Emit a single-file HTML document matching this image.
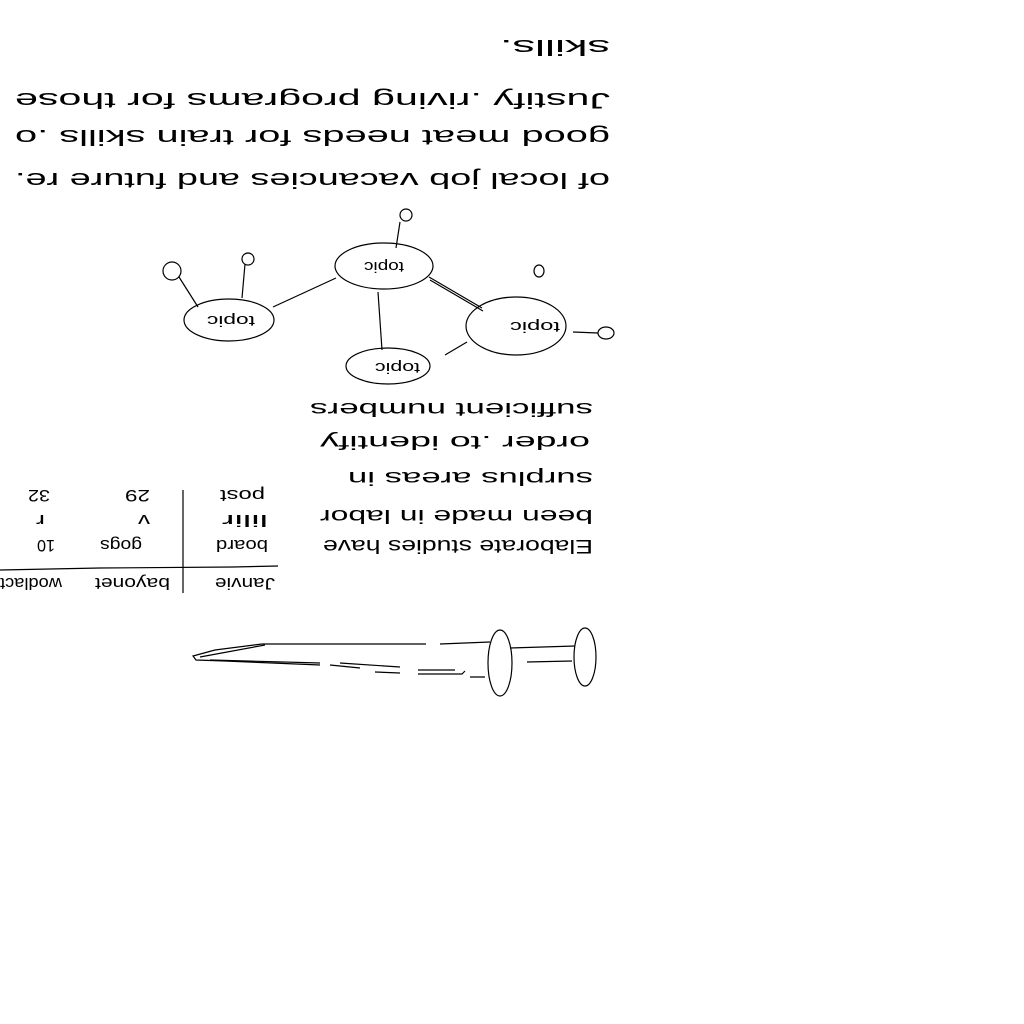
<!DOCTYPE html>
<html><head><meta charset="utf-8"><style>
html,body{margin:0;padding:0;background:#fff;}
svg{display:block;}
text{font-family:"Liberation Sans",sans-serif;fill:#000;}
</style></head><body>
<svg width="1024" height="1024" viewBox="0 0 1024 1024" xmlns="http://www.w3.org/2000/svg">
<rect width="1024" height="1024" fill="#fff"/>
<g font-size="22">
<text transform="rotate(180 610 40)" x="610" y="40" textLength="110" lengthAdjust="spacingAndGlyphs">skills.</text>
<text transform="rotate(180 610 93)" x="610" y="93" textLength="595" lengthAdjust="spacingAndGlyphs">Justify .riving programs for those</text>
<text transform="rotate(180 610 130)" x="610" y="130" textLength="595" lengthAdjust="spacingAndGlyphs">good meat needs for train skills .o</text>
<text transform="rotate(180 610 173)" x="610" y="173" textLength="595" lengthAdjust="spacingAndGlyphs">of local job vacancies and future re.</text>
</g>
<g font-size="19">
<text transform="rotate(180 593 403)" x="593" y="403" textLength="283" lengthAdjust="spacingAndGlyphs">sufficient     numbers</text>
<text transform="rotate(180 590 436)" x="590" y="436" textLength="270" lengthAdjust="spacingAndGlyphs">order  .to  identify</text>
<text transform="rotate(180 593 472)" x="593" y="472" textLength="245" lengthAdjust="spacingAndGlyphs">surplus areas  in</text>
<text transform="rotate(180 593 510)" x="593" y="510" textLength="273" lengthAdjust="spacingAndGlyphs">been  made  in  labor</text>
<text transform="rotate(180 593 540)" x="593" y="540" textLength="270" lengthAdjust="spacingAndGlyphs">Elaborate  studies  have</text>
</g>
<g font-size="17">
<text transform="rotate(180 275 578)" x="275" y="578" textLength="60" lengthAdjust="spacingAndGlyphs">Janvie</text>
<text transform="rotate(180 170 578)" x="170" y="578" textLength="75" lengthAdjust="spacingAndGlyphs">bayonet</text>
<text transform="rotate(180 62 578)" x="62" y="578" textLength="62" lengthAdjust="spacingAndGlyphs">wodlact</text>
<text transform="rotate(180 268 540)" x="268" y="540" textLength="52" lengthAdjust="spacingAndGlyphs">board</text>
<text transform="rotate(180 142 540)" x="142" y="540" textLength="42" lengthAdjust="spacingAndGlyphs">gogs</text>
<text transform="rotate(180 55 540)" x="55" y="540" textLength="18" lengthAdjust="spacingAndGlyphs">10</text>
<text transform="rotate(180 268 515)" x="268" y="515" textLength="46" lengthAdjust="spacingAndGlyphs">lilir</text>
<text transform="rotate(180 150 515)" x="150" y="515" textLength="12" lengthAdjust="spacingAndGlyphs">v</text>
<text transform="rotate(180 45 515)" x="45" y="515" textLength="9" lengthAdjust="spacingAndGlyphs">r</text>
<text transform="rotate(180 265 490)" x="265" y="490" textLength="45" lengthAdjust="spacingAndGlyphs">post</text>
<text transform="rotate(180 150 490)" x="150" y="490" textLength="25" lengthAdjust="spacingAndGlyphs">29</text>
<text transform="rotate(180 50 490)" x="50" y="490" textLength="22" lengthAdjust="spacingAndGlyphs">32</text>
</g>
<g stroke="#000" stroke-width="1.2" fill="none">
<line x1="183" y1="490" x2="183" y2="593"/>
<path d="M0 570 L100 568 L233 567 L278 566"/>
<!-- graph -->
<ellipse cx="384" cy="266" rx="49" ry="23"/>
<ellipse cx="229" cy="320" rx="45" ry="21"/>
<ellipse cx="388" cy="366" rx="42" ry="18"/>
<ellipse cx="516" cy="326" rx="50" ry="29"/>
<circle cx="406" cy="215" r="6"/>
<circle cx="172" cy="271" r="9"/>
<circle cx="248" cy="259" r="6"/>
<ellipse cx="539" cy="271" rx="5" ry="6"/>
<ellipse cx="606" cy="333" rx="8" ry="6"/>
<path d="M336 278 L273 307"/>
<path d="M378 292 L382 350"/>
<path d="M429 277 L482 308 M430 280 L483 311"/>
<path d="M400 222 L396 248"/>
<path d="M179 277 L198 307"/>
<path d="M245 264 L242 298"/>
<path d="M598 333 L573 332"/>
<path d="M467 342 L445 355"/>
<!-- syringe -->
<ellipse cx="500" cy="663" rx="12" ry="33"/>
<ellipse cx="585" cy="657" rx="11" ry="29"/>
<path d="M510 648 L575 646 M527 662 L572 661"/>
<path d="M490 642 L440 644 M426 644 L262 644 L215 650 L193 656 L196 660 L225 661 L320 665"/>
<path d="M200 657 L265 645 M210 660 L320 663"/>
<path d="M330 665 L360 668 M340 663 L400 667 M375 672 L400 673 M418 670 L455 670 M418 674 L462 674 L465 671 M470 677 L485 677"/>
</g>
<g font-size="15">
<text transform="rotate(180 404 262)" x="404" y="262" textLength="40" lengthAdjust="spacingAndGlyphs">topic</text>
<text transform="rotate(180 255 316)" x="255" y="316" textLength="48" lengthAdjust="spacingAndGlyphs">topic</text>
<text transform="rotate(180 420 363)" x="420" y="363" textLength="45" lengthAdjust="spacingAndGlyphs">topic</text>
<text transform="rotate(180 560 322)" x="560" y="322" textLength="50" lengthAdjust="spacingAndGlyphs">topic</text>
</g>
</svg>
</body></html>
